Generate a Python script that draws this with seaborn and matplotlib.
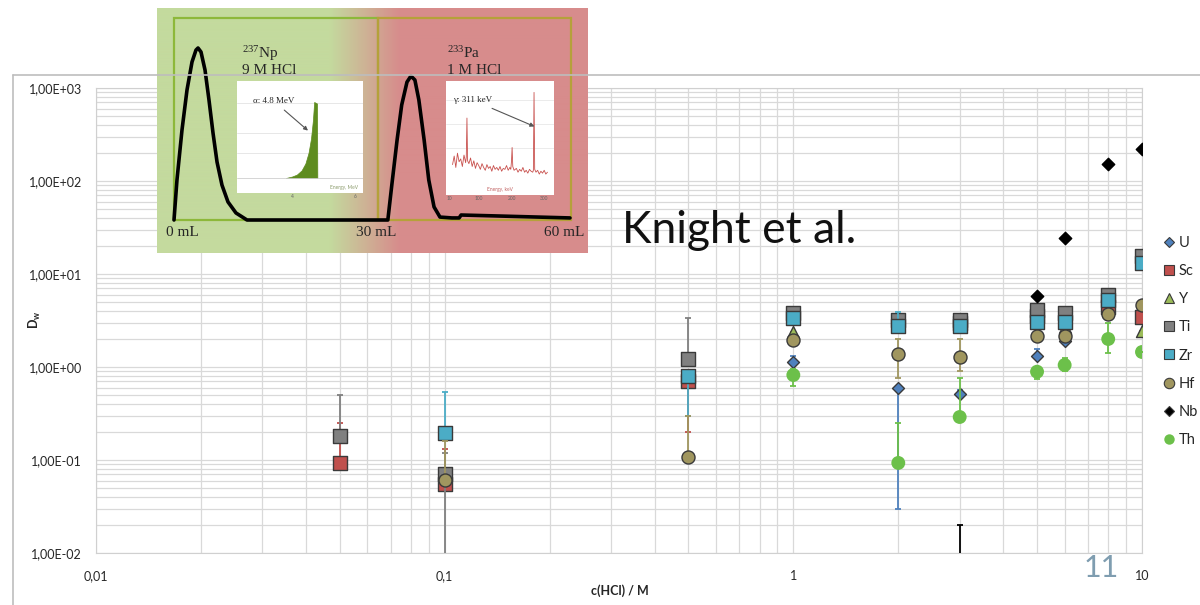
import numpy as np
import pandas as pd
import seaborn as sns
import matplotlib.pyplot as plt
from matplotlib.lines import Line2D
from matplotlib.patches import Rectangle
from matplotlib.ticker import FixedLocator, FuncFormatter, LogLocator, NullFormatter

W, H = 1200, 605

# distribution coefficients: x = c(HCl) in M, d = Dw, lo/hi = error bar ends
U_x = [1, 2, 3, 5, 6]
U_d = [1.12, 0.59, 0.51, 1.30, 1.90]
U_lo = [1.12, 0.030, 0.51, 1.30, 1.75]
U_hi = [1.30, 0.59, 0.56, 1.55, 1.90]

Sc_x = [0.05, 0.1, 0.5, 3, 5, 8, 10]
Sc_d = [0.093, 0.055, 0.71, 3.0, 3.5, 4.4, 3.45]
Sc_lo = [0.093, 0.055, 0.20, 3.0, 3.5, 4.4, 3.45]
Sc_hi = [0.25, 0.13, 0.71, 3.4, 3.5, 4.4, 3.45]

Y_x = [1, 6, 10]
Y_d = [2.4, 2.7, 2.44]
Y_lo = [2.4, 2.7, 2.2]
Y_hi = [2.4, 2.7, 2.44]

Ti_x = [0.05, 0.1, 0.5, 1, 2, 3, 5, 6, 8, 10]
Ti_d = [0.181, 0.070, 1.22, 3.8, 3.2, 3.2, 4.1, 3.8, 5.9, 15.6]
Ti_lo = [0.181, 0.001, 1.22, 3.8, 3.2, 3.2, 4.1, 3.8, 5.9, 15.6]
Ti_hi = [0.50, 0.12, 3.4, 3.8, 3.2, 3.2, 4.1, 3.8, 5.9, 15.6]

Zr_x = [0.1, 0.5, 1, 2, 3, 5, 6, 8, 10]
Zr_d = [0.195, 0.80, 3.4, 2.75, 2.75, 3.05, 3.05, 5.2, 13.1]
Zr_lo = [0.195, 0.30, 3.4, 2.75, 2.75, 3.05, 3.05, 5.2, 13.1]
Zr_hi = [0.54, 0.80, 3.4, 3.9, 2.75, 3.05, 3.05, 5.2, 13.1]

Hf_x = [0.1, 0.5, 1, 2, 3, 5, 6, 8, 10]
Hf_d = [0.061, 0.108, 1.95, 1.38, 1.28, 2.15, 2.15, 3.7, 4.6]
Hf_lo = [0.061, 0.108, 1.95, 0.76, 0.90, 2.15, 2.15, 3.2, 4.6]
Hf_hi = [0.16, 0.30, 1.95, 2.0, 2.0, 2.15, 2.15, 3.7, 4.6]

Nb_x = [3, 5, 6, 8, 10]
Nb_d = [0.005, 5.8, 24.4, 152, 220]
Nb_lo = [0.005, 5.8, 24.4, 152, 220]
Nb_hi = [0.020, 5.8, 24.4, 152, 220]

Th_x = [1, 2, 3, 5, 6, 8, 10]
Th_d = [0.82, 0.093, 0.29, 0.89, 1.05, 2.0, 1.45]
Th_lo = [0.63, 0.093, 0.29, 0.74, 0.90, 1.41, 1.45]
Th_hi = [0.95, 0.25, 0.76, 1.0, 1.25, 3.0, 1.45]

elements = ['U', 'Sc', 'Y', 'Ti', 'Zr', 'Hf', 'Nb', 'Th']
series = {
    'U': (U_x, U_d, U_lo, U_hi), 'Sc': (Sc_x, Sc_d, Sc_lo, Sc_hi),
    'Y': (Y_x, Y_d, Y_lo, Y_hi), 'Ti': (Ti_x, Ti_d, Ti_lo, Ti_hi),
    'Zr': (Zr_x, Zr_d, Zr_lo, Zr_hi), 'Hf': (Hf_x, Hf_d, Hf_lo, Hf_hi),
    'Nb': (Nb_x, Nb_d, Nb_lo, Nb_hi), 'Th': (Th_x, Th_d, Th_lo, Th_hi),
}
rows = []
for el in elements:
    for x, d, lo, hi in zip(*series[el]):
        rows.append({'element': el, 'c': x, 'Dw': d, 'lo': lo, 'hi': hi})
df = pd.DataFrame(rows)

colors = {'U': '#4F81BD', 'Sc': '#C0504D', 'Y': '#9BBB59', 'Ti': '#808080',
          'Zr': '#4BACC6', 'Hf': '#A0965F', 'Nb': '#000000', 'Th': '#6CC04A'}
markers = {'U': 'D', 'Sc': 's', 'Y': '^', 'Ti': 's', 'Zr': 's', 'Hf': 'o', 'Nb': 'D', 'Th': 'o'}
msize = {'U': 37, 'Sc': 88, 'Y': 75, 'Ti': 88, 'Zr': 88, 'Hf': 88, 'Nb': 40, 'Th': 100}

# inset: elution profile (mL, relative signal) and two spectra
vol_mL = [0.0, 0.45, 1.21, 1.97, 2.73, 3.33, 3.64, 4.09, 4.70, 5.30, 5.91, 6.52, 7.27, 8.18,
          9.39, 11.06, 30.0, 32.4, 33.0, 33.8, 34.5, 35.3, 35.9, 36.5, 37.1, 37.9, 38.6,
          39.4, 40.3, 42.1, 43.2, 43.5, 49.4, 60.0]
signal = [0.0, 0.233, 0.523, 0.756, 0.919, 0.988, 1.0, 0.977, 0.872, 0.698, 0.506, 0.337,
          0.203, 0.105, 0.041, 0.0, 0.0, 0.0, 0.203, 0.465, 0.669, 0.802, 0.837, 0.814,
          0.698, 0.465, 0.233, 0.076, 0.017, 0.012, 0.012, 0.029, 0.023, 0.012]
alpha_e = [3.8, 4.0, 4.15, 4.3, 4.42, 4.52, 4.6, 4.66, 4.70, 4.79, 4.80]
alpha_c = [0, 20, 45, 100, 190, 330, 520, 760, 1000, 980, 0]
gam_e = [20, 25, 30, 35, 40, 45, 50, 55, 60, 62, 64, 66, 70, 75, 80, 85, 90, 95, 100,
         105, 110, 115, 120, 125, 130, 135, 140, 145, 150, 155, 160, 165, 170, 175, 180,
         185, 190, 195, 198, 200, 202, 204, 208, 215, 220, 225, 230, 235, 240, 245, 250,
         255, 260, 265, 267, 269, 271, 275, 280, 285, 290, 295, 300, 305, 310]
gam_c = [32, 41, 29, 44, 35, 38, 30, 42, 34, 40, 81, 36, 33, 39, 30, 36, 28, 34, 31,
         27, 33, 29, 26, 32, 28, 30, 25, 31, 27, 29, 26, 30, 25, 28, 27, 31, 26, 29, 27,
         35, 50, 30, 26, 28, 24, 27, 25, 29, 24, 26, 23, 27, 25, 24, 26, 108, 27, 24, 26,
         22, 25, 23, 26, 22, 24]


def fbox(x0, y0, x1, y1):
    return [x0 / W, 1 - y1 / H, (x1 - x0) / W, (y1 - y0) / H]


sns.set_style('white')
plt.rcParams['font.family'] = ['Lato', 'DejaVu Sans']

fig = plt.figure(figsize=(W / 100, H / 100), dpi=100)
ax = fig.add_axes(fbox(96, 88, 1142, 553))

for i, el in enumerate(elements):
    sub = df[df['element'] == el]
    yerr = np.vstack([sub['Dw'] - sub['lo'], sub['hi'] - sub['Dw']])
    ax.errorbar(sub['c'], sub['Dw'], yerr=yerr, fmt='none', ecolor=colors[el],
                elinewidth=1.3, capsize=2.5, capthick=1.3, zorder=3 + i)
    edge = 'none' if el == 'Th' else ('#000000' if el == 'Nb' else '#3A3A3A')
    sns.scatterplot(data=sub, x='c', y='Dw', marker=markers[el], color=colors[el],
                    s=msize[el], edgecolor=edge, linewidth=1.0, ax=ax,
                    zorder=3.5 + i, legend=False)

ax.set_xscale('log')
ax.set_yscale('log')
ax.set_xlim(0.01, 10)
ax.set_ylim(0.01, 1000)
ax.xaxis.set_major_locator(FixedLocator([0.01, 0.1, 1, 10]))
ax.xaxis.set_major_formatter(FuncFormatter(lambda v, p: {0.01: '0,01', 0.1: '0,1', 1: '1', 10: '10'}.get(round(v, 2), '')))
ax.yaxis.set_major_locator(FixedLocator([0.01, 0.1, 1, 10, 100, 1000]))
ax.yaxis.set_major_formatter(FuncFormatter(lambda v, p: f'{v:.2E}'.replace('.', ',')))
for axis in (ax.xaxis, ax.yaxis):
    axis.set_minor_locator(LogLocator(base=10, subs=np.arange(2, 10), numticks=20))
    axis.set_minor_formatter(NullFormatter())
ax.grid(which='both', color='#D9D9D9', linewidth=0.9)
ax.tick_params(which='both', length=0, labelsize=9, colors='#262626')
ax.tick_params(axis='y', pad=10)
ax.tick_params(axis='x', pad=12)
for s in ax.spines.values():
    s.set_color('#D0D0D0')
ax.set_xlabel('')
ax.set_ylabel('')

fig.text(620 / W, 1 - 591 / H, 'c(HCl) / M', ha='center', va='center', fontsize=9, fontweight='bold')
fig.text(35 / W, 1 - 320 / H, r'D$_\mathregular{w}$', ha='center', va='center', rotation=90,
         fontsize=9, fontweight='bold')

# outer chart frame
fig.add_artist(Line2D([13 / W, 13 / W], [0, 1 - 75 / H], color='#BDBDBD', lw=1.2))
fig.add_artist(Line2D([13 / W, 1], [1 - 75 / H, 1 - 75 / H], color='#BDBDBD', lw=1.2))

handles = [Line2D([], [], linestyle='none', marker=markers[el], color=colors[el],
                  markeredgecolor='none' if el == 'Th' else '#3A3A3A', markeredgewidth=0.8,
                  markersize=5.5 if markers[el] == 'D' else 7.5) for el in elements]
fig.legend(handles, elements, loc='upper left', bbox_to_anchor=(1163 / W, 1 - 236 / H),
           frameon=False, fontsize=10.5, labelspacing=0.97, handlelength=0.8,
           handletextpad=0.3, borderpad=0, borderaxespad=0)

fig.text(622 / W, 1 - 230 / H, 'Knight et al.', fontsize=32, va='center', ha='left', color='#111111')
fig.text(1101 / W, 1 - 568 / H, '11', fontsize=22, va='center', ha='center', color='#7F9DB0')

# inset picture: elution profile
serif = ['Liberation Serif', 'DejaVu Serif']
ins = fig.add_axes(fbox(157, 8, 588, 253))
px2ml = 6.6
xl = ((157 - 174) / px2ml, (588 - 174) / px2ml)
yl = ((220 - 253) / 172, (220 - 8) / 172)
cols = np.linspace(xl[0], xl[1], 431)
t = np.clip((cols - 23.6) / (34.2 - 23.6), 0, 1)
green = np.array([196, 218, 158]) / 255
red = np.array([215, 140, 140]) / 255
grad = (green[None, :] * (1 - t[:, None]) + red[None, :] * t[:, None])[None, :, :]
ins.imshow(grad, extent=[xl[0], xl[1], yl[0], yl[1]], aspect='auto', zorder=0)
ins.set_xlim(*xl)
ins.set_ylim(*yl)
ins.axis('off')
ins.add_patch(Rectangle((0, 0), 30.9, 1.174, fill=False, edgecolor='#8DB83A', lw=1.6, zorder=1))
ins.add_patch(Rectangle((30.9, 0), 29.3, 1.174, fill=False, edgecolor='#B5A13A', lw=1.6, zorder=1))
sns.lineplot(x=vol_mL, y=signal, color='black', lw=2.6, ax=ins, zorder=3, sort=False, estimator=None)
ins.text(-1.2, -0.07, '0 mL', family=serif, fontsize=11, va='center', ha='left')
ins.text(30.7, -0.07, '30 mL', family=serif, fontsize=11, va='center', ha='center')
ins.text(62.2, -0.07, '60 mL', family=serif, fontsize=11, va='center', ha='right')
ins.text(10.3, 0.97, r'$\mathregular{^{237}}$Np', family=serif, fontsize=11, va='center')
ins.text(10.3, 0.87, '9 M HCl', family=serif, fontsize=11, va='center')
ins.text(41.4, 0.97, r'$\mathregular{^{233}}$Pa', family=serif, fontsize=11, va='center')
ins.text(41.4, 0.87, '1 M HCl', family=serif, fontsize=11, va='center')

# alpha spectrum
sa = fig.add_axes(fbox(237, 81, 363, 193))
sa.set_facecolor('white')
sa.fill_between(alpha_e, alpha_c, color='#5E8C1F', lw=0.5)
sa.set_xlim(2.25, 6.25)
sa.set_ylim(-197, 1276)
sa.set_yticks([330, 590, 990])
sa.set_xticks([4, 6])
sa.set_yticklabels([])
sa.set_xticklabels(['4', '6'], fontsize=3.5)
sa.tick_params(length=0, pad=1, colors='#666666')
sa.grid(axis='y', color='#E3E3E3', lw=0.6)
sa.axhline(0, color='#CFCFCF', lw=0.6)
for s in sa.spines.values():
    s.set_visible(False)
sa.text(6.1, -120, 'Energy, MeV', fontsize=3.5, color='#8A9A6A', ha='right', va='center')
sa.annotate('α: 4.8 MeV', xy=(4.57, 600), xytext=(2.76, 1013), family=serif, fontsize=6.5,
            va='center', arrowprops=dict(arrowstyle='-|>', color='#555555', lw=0.8, mutation_scale=6))

# gamma spectrum
sg = fig.add_axes(fbox(446, 81, 554, 195))
sg.set_facecolor('white')
sg.plot(gam_e, gam_c, color='#C8504D', lw=0.6)
sg.set_xlim(0, 330)
sg.set_ylim(0, 120)
sg.set_yticks([50, 75, 100])
sg.set_xticks([10, 100, 200, 300])
sg.set_yticklabels([])
sg.set_xticklabels(['10', '100', '200', '300'], fontsize=3.5)
sg.tick_params(length=0, pad=1, colors='#666666')
sg.grid(axis='y', color='#E8E8E8', lw=0.6)
for s in sg.spines.values():
    s.set_visible(False)
sg.text(165, 3, 'Energy, keV', fontsize=3.5, color='#C06060', ha='center', va='bottom')
sg.annotate('γ: 311 keV', xy=(278, 71), xytext=(21, 100), family=serif, fontsize=6.5,
            va='center', arrowprops=dict(arrowstyle='-|>', color='#555555', lw=0.8, mutation_scale=6))

fig.savefig('out.png', dpi=100)
